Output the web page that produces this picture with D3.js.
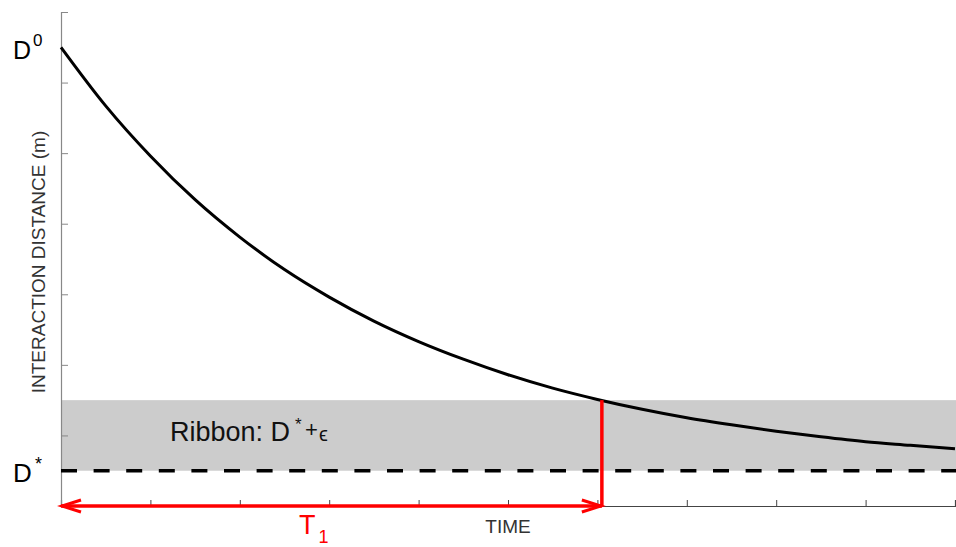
<!DOCTYPE html>
<html>
<head>
<meta charset="utf-8">
<script src="https://cdn.jsdelivr.net/npm/d3@7"></script>
<style>
  html, body { margin: 0; padding: 0; background: #fff; }
  svg { display: block; font-family: "Liberation Sans", Arial, sans-serif; }
</style>
</head>
<body>
<svg id="chart" width="956" height="547"></svg>
<script>
// Time axis ticks and the sampled interaction distance
const timeTicks = [0, 1, 2, 3, 4, 5, 6, 7, 8, 9, 10];
const distTicks = [0, 1, 2, 3, 4, 5, 6, 7];
const time = [0, 0.5, 1, 1.5, 2, 2.5, 3, 3.5, 4, 4.5, 5, 5.5, 6, 6.5, 7, 7.5, 8, 8.5, 9, 9.5, 10];
const distance = [6.50, 5.67, 4.96, 4.34, 3.81, 3.35, 2.96, 2.62, 2.33, 2.08, 1.86, 1.67, 1.51, 1.37, 1.25, 1.15, 1.06, 0.98, 0.91, 0.86, 0.81];

// Reference levels
const D0 = 6.5;          // initial distance
const Dstar = 0.5;       // equilibrium distance D*
const ribbonTop = 1.5;   // D* + epsilon
const T1 = 6.05;         // time when the curve enters the ribbon

const svg = d3.select("#chart");
const x = d3.scaleLinear().domain([0, 10]).range([61, 955]);
const y = d3.scaleLinear().domain([0, 7]).range([506, 12]);

// Ribbon band between D* and D* + epsilon
svg.append("rect")
  .attr("x", x(0)).attr("y", y(ribbonTop))
  .attr("width", x(10) - x(0) + 2).attr("height", y(Dstar) - y(ribbonTop))
  .attr("fill", "#cccccc");

// Axes
const xAxis = svg.append("g")
  .attr("transform", `translate(0,${y(0)})`)
  .call(d3.axisTop(x).tickValues(timeTicks).tickSize(6).tickFormat(""));
xAxis.select(".domain").attr("stroke", "#444").attr("stroke-width", 1.2);
xAxis.selectAll(".tick line").attr("stroke", "#444");

const yAxis = svg.append("g")
  .attr("transform", `translate(${x(0)},0)`)
  .call(d3.axisRight(y).tickValues(distTicks).tickSize(7).tickFormat(""));
yAxis.select(".domain").attr("stroke", "#888").attr("stroke-width", 1.2);
yAxis.selectAll(".tick line").attr("stroke", "#888");

// Dashed D* line
svg.append("line")
  .attr("x1", x(0)).attr("x2", x(10) + 2)
  .attr("y1", y(Dstar)).attr("y2", y(Dstar))
  .attr("stroke", "#000").attr("stroke-width", 3.5)
  .attr("stroke-dasharray", "16,16.6");

// Distance curve
const line = d3.line()
  .x((d, i) => x(time[i]))
  .y(d => y(d))
  .curve(d3.curveMonotoneX);
svg.append("path")
  .datum(distance)
  .attr("d", line)
  .attr("fill", "none")
  .attr("stroke", "#000")
  .attr("stroke-width", 3);

// T1 marker: vertical line and double arrow
const red = "#ff0000";
svg.append("line")
  .attr("x1", x(T1)).attr("x2", x(T1))
  .attr("y1", y(ribbonTop)).attr("y2", y(0))
  .attr("stroke", red).attr("stroke-width", 3.5);
svg.append("line")
  .attr("x1", x(0)).attr("x2", x(T1))
  .attr("y1", y(0)).attr("y2", y(0))
  .attr("stroke", red).attr("stroke-width", 3.5);
const ay = y(0);
svg.append("path")
  .attr("d", `M${x(0) + 20},${ay - 6} L${x(0) + 1},${ay} L${x(0) + 20},${ay + 6}`)
  .attr("fill", "none").attr("stroke", red).attr("stroke-width", 3)
  .attr("stroke-linejoin", "miter");
svg.append("path")
  .attr("d", `M${x(T1) - 20},${ay - 6} L${x(T1) - 1},${ay} L${x(T1) - 20},${ay + 6}`)
  .attr("fill", "none").attr("stroke", red).attr("stroke-width", 3)
  .attr("stroke-linejoin", "miter");

// T1 label
const t1 = svg.append("text").attr("x", 299).attr("y", 534).attr("fill", red);
t1.append("tspan").attr("font-size", 27).text("T");
t1.append("tspan").attr("font-size", 18).attr("dx", 3).attr("dy", 9).text("1");

// Level labels on the left
const d0 = svg.append("text").attr("x", 13).attr("y", y(D0) + 12).attr("fill", "#000");
d0.append("tspan").attr("font-size", 25).text("D");
d0.append("tspan").attr("font-size", 17).attr("dx", 2).attr("dy", -13).text("0");

svg.append("text").attr("x", 13).attr("y", y(Dstar) + 11)
  .attr("font-size", 26).attr("fill", "#000").text("D");
svg.append("text").attr("x", 35).attr("y", y(Dstar) - 1)
  .attr("font-size", 18).attr("fill", "#000").text("*");

// Ribbon caption
svg.append("text").attr("x", 170).attr("y", 441)
  .attr("font-size", 27).attr("fill", "#111").text("Ribbon: D");
svg.append("text").attr("x", 295).attr("y", 430)
  .attr("font-size", 17).attr("fill", "#111").text("*");
svg.append("text").attr("x", 305).attr("y", 437)
  .attr("font-size", 22).attr("fill", "#111").text("+");
svg.append("text").attr("x", 319).attr("y", 441)
  .attr("font-size", 20).attr("fill", "#111").text("\u03F5");

// Axis titles
svg.append("text")
  .attr("x", (x(0) + x(10)) / 2).attr("y", 533)
  .attr("text-anchor", "middle").attr("font-size", 19).attr("fill", "#333")
  .text("TIME");
svg.append("text")
  .attr("transform", `translate(45,${(y(0) + y(7)) / 2 + 3}) rotate(-90)`)
  .attr("text-anchor", "middle").attr("font-size", 19).attr("fill", "#333")
  .text("INTERACTION DISTANCE (m)");
</script>
</body>
</html>
